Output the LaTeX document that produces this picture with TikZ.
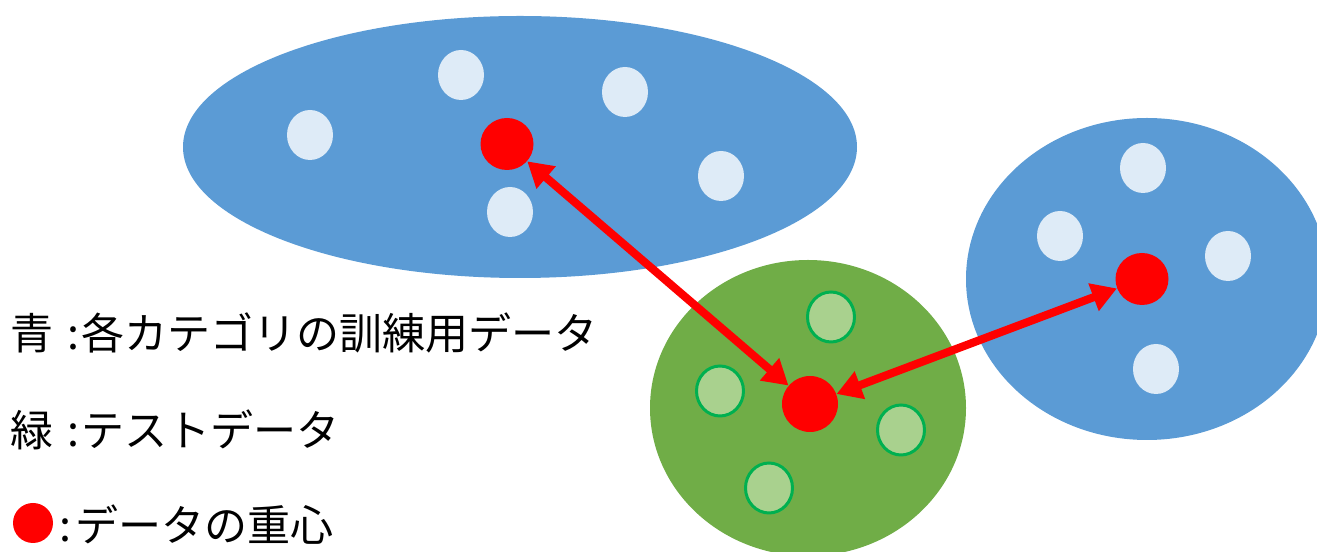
\documentclass[tikz,border=0pt]{standalone}
\usepackage{fontspec}
\newfontfamily\jpfont{Noto Sans CJK JP}
\usetikzlibrary{shapes.geometric,arrows.meta}
\definecolor{catblue}{HTML}{5B9BD5}
\definecolor{dotblue}{HTML}{DEEBF7}
\definecolor{testgreen}{HTML}{70AD47}
\definecolor{dotgreen}{HTML}{A9D18E}
\definecolor{rimgreen}{HTML}{00B050}
\begin{document}
\begin{tikzpicture}[>={Triangle[length=0.50cm,width=0.56cm]},scale=1,
	blob/.style={ellipse,inner sep=0pt},
	tdot/.style={ellipse,inner sep=0pt,fill=dotblue,minimum width=0.92cm,minimum height=1.0cm},
	gdot/.style={ellipse,inner sep=0pt,fill=dotgreen,draw=rimgreen,line width=1.7pt,minimum width=0.94cm,minimum height=1.0cm},
	cen/.style={ellipse,inner sep=0pt,fill=red,minimum width=1.06cm,minimum height=1.04cm},
	lbl/.style={anchor=west,inner sep=0pt,font=\jpfont\fontsize{24.5pt}{30pt}\selectfont}]
	  \useasboundingbox (0,0) rectangle (26.34,-11.04);
	  % clusters
	  \node[blob,fill=catblue,minimum width=13.48cm,minimum height=5.24cm] (catA) at (10.40,-2.94) {};
	  \node[blob,fill=catblue,minimum width=7.24cm,minimum height=6.44cm] (catB) at (22.94,-5.58) {};
	  \node[blob,fill=testgreen,minimum width=6.32cm,minimum height=5.92cm] (test) at (16.16,-8.16) {};
	  % training points
	  \node[tdot] (a1) at (9.22,-1.50) {};
	  \node[tdot] (a2) at (12.50,-1.84) {};
	  \node[tdot] (a3) at (6.20,-2.70) {};
	  \node[tdot] (a4) at (14.42,-3.52) {};
	  \node[tdot] (a5) at (10.20,-4.24) {};
	  \node[tdot] (b1) at (22.86,-3.36) {};
	  \node[tdot] (b2) at (21.20,-4.72) {};
	  \node[tdot] (b3) at (24.56,-5.12) {};
	  \node[tdot] (b4) at (23.12,-7.38) {};
	  % test points
	  \node[gdot] (t1) at (16.62,-6.34) {};
	  \node[gdot] (t2) at (14.40,-7.82) {};
	  \node[gdot] (t3) at (18.02,-8.60) {};
	  \node[gdot] (t4) at (15.38,-9.76) {};
	  % centroids
	  \node[cen] (gA) at (10.14,-2.88) {};
	  \node[cen,minimum width=1.12cm,minimum height=1.12cm] (gT) at (16.20,-8.08) {};
	  \node[cen] (gB) at (22.84,-5.58) {};
	  \draw[<->,red,line width=4.6pt] (gA) -- (gT);
	  \draw[<->,red,line width=4.6pt] (gT) -- (gB);
	  % legend
	  \node[lbl] (l1) at (0.20,-6.66) {青\hspace{0.28cm}:\hspace{0.04cm}各カテゴリの訓練用データ};
	  \node[lbl] (l2) at (0.20,-8.60) {緑\hspace{0.28cm}:\hspace{0.04cm}テストデータ};
	  \node[circle,inner sep=0pt,fill=red,minimum size=0.80cm] (keydot) at (0.66,-10.46) {};
	  \node[lbl] (l3) at (1.18,-10.50) {:\hspace{0.08cm}データの重心};
	\end{tikzpicture}
\end{document}
